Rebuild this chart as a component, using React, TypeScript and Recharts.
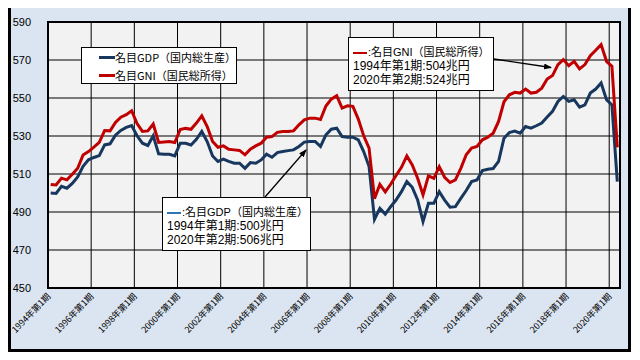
import React from 'react';
import { LineChart, Line, XAxis, YAxis, CartesianGrid, Legend, ReferenceArea } from 'recharts';

const gdpValues = [
  500.0, 499.8, 503.5, 502.5,
  505.0, 508.5, 514.0, 517.5,
  518.7, 519.7, 525.3, 525.9,
  530.4, 532.9, 534.5, 535.5,
  530.1, 526.2, 525.0, 530.1,
  520.6, 520.4, 520.4, 519.5,
  526.2, 526.2, 525.3, 528.3,
  532.4, 527.1, 519.5, 516.6,
  517.8, 516.6, 515.7, 515.7,
  513.0, 516.0, 515.7, 517.4,
  520.4, 518.8, 521.3, 521.8,
  522.3, 522.7, 524.5, 526.8,
  527.1, 527.1, 524.5, 530.6,
  533.6, 534.1, 529.7, 529.4,
  529.4, 528.0, 521.8, 513.9,
  486.1, 491.9, 488.9, 492.8,
  496.3, 500.7, 506.0, 503.0,
  496.3, 485.0, 494.6, 494.6,
  500.7, 496.3, 492.5, 492.8,
  497.2, 501.3, 506.0, 506.9,
  511.8, 512.5, 512.9, 516.6,
  528.8, 531.8, 532.6, 531.5,
  535.0, 534.1, 535.4, 536.8,
  540.0, 543.0, 548.2, 550.8,
  548.2, 549.1, 545.2, 546.4,
  552.6, 554.7, 557.9, 549.1,
  546.4, 506.0,
];

const gniValues = [
  504.5, 504.2, 507.8, 506.9,
  509.9, 513.0, 520.0, 521.8,
  524.1, 526.6, 532.9, 532.7,
  537.1, 539.9, 541.2, 543.3,
  536.5, 532.4, 532.7, 536.3,
  526.6, 526.9, 527.1, 526.6,
  533.4, 534.0, 533.5, 536.8,
  540.6, 535.0, 527.1, 524.1,
  524.8, 523.0, 522.7, 522.4,
  520.1, 523.1, 524.8, 526.2,
  529.4, 529.7, 531.9, 532.4,
  532.4, 532.7, 535.9, 538.5,
  539.4, 539.4, 538.7, 545.8,
  549.4, 551.2, 544.7, 545.9,
  545.6, 538.9, 530.1, 523.6,
  497.0, 504.5, 500.6, 504.6,
  509.2, 513.5, 519.5, 514.8,
  507.8, 499.0, 509.0, 507.7,
  513.9, 508.3, 505.5, 506.9,
  513.0, 520.1, 523.6, 524.5,
  528.0, 529.4, 531.5, 537.7,
  548.0, 551.7, 553.0, 552.6,
  554.7, 552.6, 553.0, 555.2,
  560.0, 561.8, 567.6, 570.2,
  567.0, 569.3, 565.3, 567.6,
  572.3, 575.1, 578.1, 569.3,
  566.7, 524.0,
];

const xTickLabels = [
  '1994年第1期', '1996年第1期', '1998年第1期', '2000年第1期', '2002年第1期',
  '2004年第1期', '2006年第1期', '2008年第1期', '2010年第1期', '2012年第1期',
  '2014年第1期', '2016年第1期', '2018年第1期', '2020年第1期',
];

const yTicks = [450, 470, 490, 510, 530, 550, 570, 590];

const quarters: string[] = [];
for (let y = 1994; y <= 2020; y++) {
  for (let q = 1; q <= 4; q++) {
    if (quarters.length < gdpValues.length) quarters.push(`${y}年第${q}期`);
  }
}

const data = quarters.map((q, i) => ({ i, quarter: q, gdp: gdpValues[i], gni: gniValues[i] }));
const xTicks = xTickLabels.map((_, k) => k * 8 - 0.5);

const jp = '"Noto Sans CJK JP", "Noto Sans", sans-serif';
const mixed = '"Liberation Sans", "Noto Sans CJK JP", sans-serif';
const GDP_COLOR = '#17375e';
const GNI_COLOR = '#c00000';

const XTick = (props: any) => {
  const { x, y, payload } = props;
  const k = Math.round((payload.value + 0.5) / 8);
  return (
    <g transform={`translate(${x + 3},${y + 9})`}>
      <text transform="rotate(-46)" textAnchor="end" fontSize={8.8} fontFamily={jp} fill="#000">
        {xTickLabels[k]}
      </text>
    </g>
  );
};

const renderLegend = (props: any) => {
  const { payload } = props;
  return (
    <div
      style={{
        background: '#fff',
        border: '1px solid #000',
        width: 156,
        height: 37,
        boxSizing: 'border-box',
        paddingLeft: 17,
        fontFamily: jp,
        fontSize: 11,
        color: '#000',
      }}
    >
      {(payload || []).map((p: any) => (
        <div key={p.value} style={{ display: 'flex', alignItems: 'center', height: 18 }}>
          <span style={{ display: 'inline-block', width: 16, height: 3, background: p.color }} />
          <span style={{ lineHeight: '18px' }}>{p.value}</span>
        </div>
      ))}
    </div>
  );
};

const boxStyle: React.CSSProperties = {
  position: 'absolute',
  background: '#fff',
  border: '1px solid #000',
  boxSizing: 'border-box',
  fontFamily: mixed,
  color: '#000',
  paddingLeft: 4,
  paddingTop: 7,
};

const lineStyle = (size: number): React.CSSProperties => ({
  fontSize: size,
  lineHeight: '14px',
  height: 14,
  whiteSpace: 'nowrap',
});

const Dash = ({ color }: { color: string }) => (
  <span style={{ display: 'inline-block', width: 14, height: 2.5, background: color, verticalAlign: 'middle', marginRight: 1 }} />
);

export default function App() {
  return (
    <div
      style={{
        position: 'relative',
        top: -3,
        width: 623,
        height: 347,
        boxSizing: 'border-box',
        border: '3px solid #000',
        background: '#dbe5f1',
      }}
    >
      <style>{'.recharts-surface{overflow:visible;}'}</style>
      <LineChart width={617} height={341} data={data} margin={{ top: 14, right: 8, left: 0, bottom: 0 }}>
        <CartesianGrid stroke="#000" strokeWidth={1} fill="#f2f2f2" />
        <XAxis
          type="number"
          dataKey="i"
          domain={[-0.5, 105.5]}
          ticks={xTicks}
          interval={0}
          height={61}
          tickLine={false}
          axisLine={false}
          tickSize={0}
          tickMargin={0}
          tick={<XTick />}
          allowDataOverflow
        />
        <YAxis
          type="number"
          domain={[450, 590]}
          ticks={yTicks}
          interval={0}
          width={37}
          tickLine={false}
          axisLine={false}
          tickSize={0}
          tickMargin={17}
          tick={{ fontSize: 11, fill: '#000', fontFamily: '"Liberation Sans Narrow", "Liberation Sans", sans-serif' }}
          allowDataOverflow
        />
        <ReferenceArea x1={-0.5} x2={105.5} y1={450} y2={590} fill="none" fillOpacity={0} stroke="#000" strokeWidth={2} />
        <Line
          type="linear"
          dataKey="gdp"
          name="名目GDP（国内総生産）"
          stroke={GDP_COLOR}
          strokeWidth={3}
          dot={false}
          activeDot={false}
          isAnimationActive={false}
        />
        <Line
          type="linear"
          dataKey="gni"
          name="名目GNI（国民総所得）"
          stroke={GNI_COLOR}
          strokeWidth={3}
          dot={false}
          activeDot={false}
          isAnimationActive={false}
        />
        <Legend
          layout="vertical"
          align="center"
          verticalAlign="middle"
          content={renderLegend}
          wrapperStyle={{ left: 70, top: 39, width: 156, height: 37 }}
        />
      </LineChart>

      <div style={{ ...boxStyle, left: 337, top: 29, width: 146, height: 54 }}>
        <div style={lineStyle(11)}>
          <Dash color={GNI_COLOR} />:名目GNI（国民総所得）
        </div>
        <div style={lineStyle(12)}>1994年第1期:504兆円</div>
        <div style={lineStyle(12)}>2020年第2期:524兆円</div>
      </div>

      <div style={{ ...boxStyle, left: 151, top: 189, width: 149, height: 54 }}>
        <div style={lineStyle(11)}>
          <Dash color="#2e75b6" />:名目GDP（国内総生産）
        </div>
        <div style={lineStyle(12)}>1994年第1期:500兆円</div>
        <div style={lineStyle(12)}>2020年第2期:506兆円</div>
      </div>

      <svg
        width={617}
        height={341}
        style={{ position: 'absolute', left: 0, top: 0, pointerEvents: 'none' }}
      >
        <defs>
          <marker id="arrowHead" markerWidth="8" markerHeight="6" refX="7" refY="3" orient="auto" markerUnits="userSpaceOnUse">
            <path d="M0,0 L8,3 L0,6 Z" fill="#000" />
          </marker>
        </defs>
        <line x1={483} y1={51} x2={540} y2={59.5} stroke="#000" strokeWidth={1.3} markerEnd="url(#arrowHead)" />
        <line x1={254} y1={189} x2={295} y2={142} stroke="#000" strokeWidth={1.3} markerEnd="url(#arrowHead)" />
      </svg>
    </div>
  );
}
